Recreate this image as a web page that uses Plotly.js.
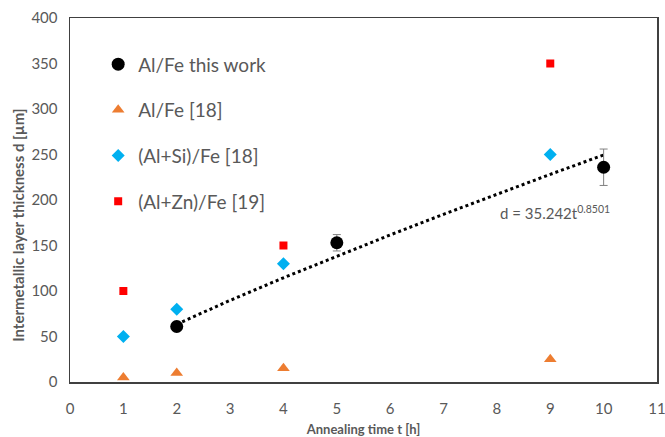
<!DOCTYPE html>
<html><head><meta charset="utf-8">
<script src="https://cdn.plot.ly/plotly-3.0.1.min.js"></script>
<style>html,body{margin:0;padding:0;background:#fff}</style>
</head><body><div id="chart" style="width:665px;height:437px"></div>
<script>
// Al/Fe this work
const thisX = [2, 5, 10];
const thisY = [61, 153, 236];
const thisErr = [4, 9, 20];
// Al/Fe [18]
const alfeX = [1, 2, 4, 9];
const alfeY = [5, 10, 15, 25];
// (Al+Si)/Fe [18]
const alsiX = [1, 2, 4, 9];
const alsiY = [50, 80, 130, 250];
// (Al+Zn)/Fe [19]
const alznX = [1, 4, 9];
const alznY = [100, 150, 350];
// power trendline values
const trendX = [2, 3, 4, 5, 6, 7, 8, 9, 10];
const trendY = [63.5, 89.7, 114.5, 138.4, 161.6, 184.3, 206.4, 228.2, 249.5];

const grey = '#595959';
const F = 'Lato, "Open Sans", sans-serif';

const traces = [
  {x: trendX, y: trendY, mode: 'lines', line: {color: '#000', width: 3, dash: 'dot'}, showlegend: false, hoverinfo: 'skip'},
  {x: thisX, y: thisY, mode: 'markers', name: 'Al/Fe this work', legendgroup: 'a',
   marker: {symbol: 'circle', color: '#000', size: 13},
   error_y: {type: 'data', array: thisErr, visible: true, color: '#808080', thickness: 1, width: 4}},
  {x: alfeX, y: alfeY, mode: 'markers', name: 'Al/Fe [18]', legendgroup: 'b',
   marker: {symbol: 'triangle-up', color: '#ED7D31', size: 11}},
  {x: alsiX, y: alsiY, mode: 'markers', name: '(Al+Si)/Fe [18]', legendgroup: 'c',
   marker: {symbol: 'diamond', color: '#00B0F0', size: 10}},
  {x: alznX, y: alznY, mode: 'markers', name: '(Al+Zn)/Fe [19]', legendgroup: 'd',
   marker: {symbol: 'square', color: '#FF0000', size: 8}}
];

const layout = {
  width: 665, height: 437,
  margin: {l: 70, r: 8, t: 18, b: 55},
  paper_bgcolor: '#fff', plot_bgcolor: '#fff',
  font: {family: F, color: grey},
  showlegend: true,
  legend: {x: 0.048, y: 0.925, xanchor: 'left', yanchor: 'top', bgcolor: 'rgba(0,0,0,0)',
           font: {size: 19, color: grey, family: F}, tracegroupgap: 18, traceorder: 'grouped', itemwidth: 30},
  xaxis: {range: [0, 11], dtick: 1, showgrid: false, zeroline: false,
          showline: true, linecolor: '#404040', linewidth: 1.5, mirror: true, ticks: '',
          ticklabeloverflow: 'allow', ticklabelstandoff: 12,
          tickfont: {size: 15, color: grey, family: F},
          title: {text: '<b>Annealing time t [h]</b>', font: {size: 13, color: grey, family: F}, standoff: 12}},
  yaxis: {range: [0, 400], dtick: 50, showgrid: false, zeroline: false,
          showline: true, linecolor: '#404040', linewidth: 1.5, mirror: true, ticks: '',
          tickfont: {size: 15, color: grey, family: F}, ticklabelstandoff: 8},
  annotations: [
    {x: 9.08, y: 186, xref: 'x', yref: 'y', showarrow: false,
     text: 'd = 35.242t<sup>0.8501</sup>', font: {size: 15, color: grey, family: F}},
    {x: -0.088, y: 0.43, xref: 'paper', yref: 'paper', showarrow: false, textangle: -90,
     xanchor: 'center', yanchor: 'middle',
     text: '<b>Intermetallic layer thickness d [µm]</b>', font: {size: 15, color: grey, family: F}}
  ]
};

Plotly.newPlot('chart', traces, layout, {staticPlot: true, displayModeBar: false});
</script></body></html>
